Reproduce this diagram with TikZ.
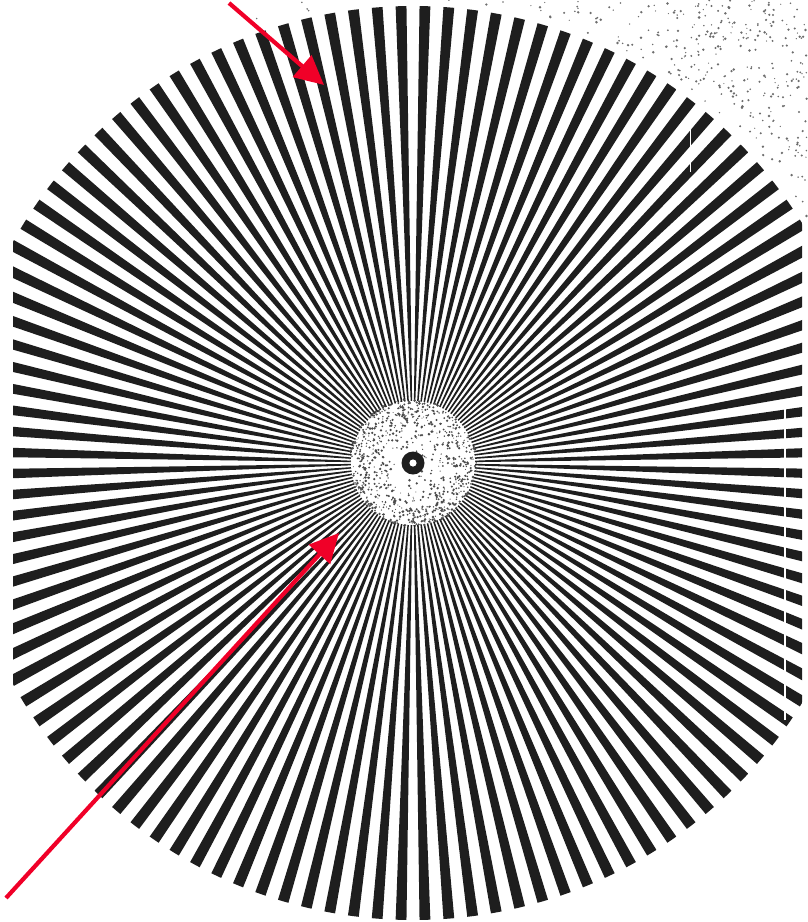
\documentclass[tikz,border=0pt]{standalone}
\usetikzlibrary{arrows.meta}
\definecolor{arrowred}{RGB}{240,0,40}
\definecolor{ink}{RGB}{30,30,30}
\begin{document}
\begin{tikzpicture}[x=1pt,y=-1pt,
  spoke/.style={fill=ink},
  speck/.style={fill=ink!80},
  redarrow/.style={draw=arrowred, line width=4.2pt, line cap=butt,
    -{Triangle[length=29pt,width=28pt,fill=arrowred]}}]
\useasboundingbox (0,0) rectangle (807,922);
\coordinate (c) at (413,463);
% spokes
\begin{scope}
  \clip (13,0) rectangle (802,922);
  \clip (c) circle (457);
  \begin{scope}[shift={(413,463)}]
    \foreach \k in {0,...,119}{
      \pgfmathsetmacro\a{1.5+3*\k}
      \fill[spoke] (0,0) -- (\a-0.68:520) -- (\a+0.68:520) -- cycle;
    }
  \end{scope}
\end{scope}
% scan artefacts
\draw[white, line width=1.6pt] (785,405) -- (785,720);
\draw[white, line width=0.7pt] (690,122) -- (690,172);
% centre
\fill[white] (c) circle (62);
\pgfmathsetseed{7}
\begin{scope}[shift={(413,463)}]
  \foreach \i in {1,...,900}{
    \pgfmathsetmacro\ang{360*rnd}
    \pgfmathsetmacro\rad{64*rnd^0.3}
    \pgfmathsetmacro\sz{0.5+0.9*rnd}
    \fill[speck] (\ang:\rad) circle (\sz);
  }
\end{scope}
\fill[ink] (c) circle (11.5);
\fill[white] (c) circle (3.6);
% paper speckle top right
\pgfmathsetseed{11}
\foreach \i in {1,...,2600}{
  \pgfmathsetmacro\px{180+627*rnd}
  \pgfmathsetmacro\py{250*rnd}
  \pgfmathsetmacro\w{rnd}
  \pgfmathtruncatemacro\ok{(veclen(\px-413,\py-463)>464)&&(\w<((\px-180)/627)^1.3)}
  \ifnum\ok=1
    \pgfmathsetmacro\sz{0.6+0.8*rnd}
    \fill[ink!65] (\px,\py) circle (\sz);
  \fi
}
% arrows
\coordinate (a1tail) at (229,3);
\coordinate (a1tip) at (324,85);
\coordinate (a2tail) at (6,898);
\coordinate (a2tip) at (339,533);
\draw[redarrow] (a1tail) -- (a1tip);
\draw[redarrow] (a2tail) -- (a2tip);
\end{tikzpicture}
\end{document}
